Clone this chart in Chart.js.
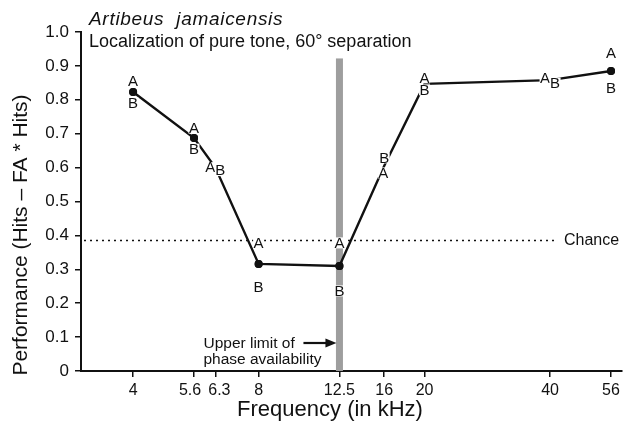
<!DOCTYPE html>
<html>
<head>
<meta charset="utf-8">
<script src="https://cdn.jsdelivr.net/npm/chart.js@4"></script>
<style>
  html, body { margin: 0; padding: 0; background: #fff; }
  #chart { display: block; }
</style>
</head>
<body>
<canvas id="chart" width="626" height="430"></canvas>
<script>
// data
const freqs = [4, 5.6, 6.3, 8, 12.5, 16, 20, 40, 56];
const performance = [0.823, 0.687, 0.60, 0.316, 0.31, 0.605, 0.847, 0.858, 0.885];
const showDot = [true, true, false, true, true, false, false, false, true];

const xTickValues = [4, 5.6, 6.3, 8, 12.5, 16, 20, 40, 56];
// 5.6 and 6.3 sit close together, so their labels are nudged apart with spaces
const xTickLabels = ["4", "5.6\u2002", "\u20026.3", "8", "12.5", "16", "20", "40", "56"];
const yTickValues = [0, 0.1, 0.2, 0.3, 0.4, 0.5, 0.6, 0.7, 0.8, 0.9, 1.0];
const yTickLabels = ["0", "0.1", "0.2", "0.3", "0.4", "0.5", "0.6", "0.7", "0.8", "0.9", "1.0"];

const chanceLevel = 0.385;
const phaseLimit = 12.5;
const phaseBandTop = 0.922;

// where the A / B letters sit around each point (pixel offsets)
const labelOffsets = [
  { a: [0, -11], b: [0, 11] },
  { a: [0, -10], b: [0, 11] },
  { a: [-5, 0], b: [5, 3] },
  { a: [0, -21], b: [0, 23] },
  { a: [0, -23], b: [0, 25] },
  { a: [-1, 7], b: [0, -8] },
  { a: [0, -6], b: [0, 6] },
  { a: [-5, -2], b: [5, 3] },
  { a: [0, -18], b: [0, 17] },
];

const FONT = '"Liberation Sans", Arial, Helvetica, sans-serif';
const INK = "#111";

const backdrop = {
  id: "backdrop",
  beforeDatasetsDraw(chart) {
    const { ctx, chartArea, scales: { x, y } } = chart;
    ctx.save();
    // phase availability band
    const bx = x.getPixelForValue(phaseLimit);
    const top = y.getPixelForValue(phaseBandTop);
    ctx.fillStyle = "#9e9e9e";
    ctx.fillRect(bx - 3.5, top, 7, chartArea.bottom - top);

    // chance line
    const cy = y.getPixelForValue(chanceLevel);
    ctx.strokeStyle = INK;
    ctx.lineWidth = 1.3;
    ctx.setLineDash([2, 4]);
    ctx.beginPath();
    ctx.moveTo(chartArea.left + 3, cy);
    ctx.lineTo(chartArea.right - 64, cy);
    ctx.stroke();
    ctx.setLineDash([]);
    ctx.fillStyle = INK;
    ctx.font = "16px " + FONT;
    ctx.textBaseline = "middle";
    ctx.textAlign = "left";
    ctx.fillText("Chance", chartArea.right - 58, cy);

    // upper limit note + arrow
    ctx.font = "15.5px " + FONT;
    ctx.textBaseline = "middle";
    ctx.fillText("Upper limit of", bx - 136, 344);
    ctx.fillText("phase availability", bx - 136, 360);
    ctx.lineWidth = 2.2;
    ctx.beginPath();
    ctx.moveTo(bx - 36, 343);
    ctx.lineTo(bx - 12, 343);
    ctx.stroke();
    ctx.beginPath();
    ctx.moveTo(bx - 3, 343);
    ctx.lineTo(bx - 14, 338.5);
    ctx.lineTo(bx - 14, 347.5);
    ctx.closePath();
    ctx.fill();
    ctx.restore();
  },
  afterDatasetsDraw(chart) {
    const { ctx, chartArea, scales: { x, y } } = chart;
    const meta = chart.getDatasetMeta(0);
    ctx.save();
    ctx.font = "15px " + FONT;
    ctx.textAlign = "center";
    ctx.textBaseline = "middle";
    freqs.forEach((f, i) => {
      const px = x.getPixelForValue(f);
      const py = y.getPixelForValue(performance[i]);
      const off = labelOffsets[i];
      [["A", off.a], ["B", off.b]].forEach(([t, o]) => {
        const lx = px + o[0], ly = py + o[1];
        ctx.fillStyle = "#fff";
        ctx.fillRect(lx - 5.5, ly - 5.5, 11, 11);
        ctx.fillStyle = INK;
        ctx.fillText(t, lx, ly + 0.5);
      });
    });
    // keep the dots on top of the letter backgrounds
    meta.data.forEach((pt) => pt.draw(ctx, chartArea));

    // headings
    ctx.textAlign = "left";
    ctx.textBaseline = "alphabetic";
    ctx.font = "italic 19px " + FONT;
    ctx.letterSpacing = "0.7px";
    ctx.fillText("Artibeus  jamaicensis", chartArea.left + 8, 25);
    ctx.letterSpacing = "0px";
    ctx.font = "18px " + FONT;
    ctx.fillText("Localization of pure tone, 60° separation", chartArea.left + 8, 47);

    // axis titles
    ctx.font = "22px " + FONT;
    ctx.textAlign = "center";
    ctx.textBaseline = "middle";
    ctx.fillText("Frequency (in kHz)", 330, 410);
    ctx.translate(21, 235);
    ctx.rotate(-Math.PI / 2);
    ctx.font = "21px " + FONT;
    ctx.fillText("Performance (Hits \u2013 FA * Hits)", 0, 0);
    ctx.restore();
  },
};

const chart = new Chart(document.getElementById("chart"), {
  type: "line",
  data: {
    datasets: [{
      data: freqs.map((f, i) => ({ x: f, y: performance[i] })),
      borderColor: INK,
      borderWidth: 2.4,
      tension: 0,
      pointRadius: showDot.map((d) => (d ? 4 : 0)),
      pointHoverRadius: 0,
      pointBackgroundColor: INK,
      pointBorderWidth: 0,
    }],
  },
  options: {
    responsive: false,
    animation: false,
    events: [],
    layout: { padding: { top: 32, right: 4, left: 0, bottom: 0 } },
    plugins: { legend: { display: false }, tooltip: { enabled: false } },
    scales: {
      x: {
        type: "logarithmic",
        min: 3,
        max: 59.5,
        afterBuildTicks: (s) => { s.ticks = xTickValues.map((v) => ({ value: v })); },
        afterFit: (s) => { s.height = 59; },
        ticks: {
          autoSkip: false,
          maxRotation: 0,
          padding: 4,
          color: INK,
          font: { family: FONT, size: 16 },
          callback: (v, i) => xTickLabels[i],
        },
        grid: { drawOnChartArea: false, drawTicks: true, tickLength: 6, color: INK, lineWidth: 1.5 },
        border: { display: true, color: INK, width: 2 },
      },
      y: {
        min: 0,
        max: 1,
        afterBuildTicks: (s) => { s.ticks = yTickValues.map((v) => ({ value: v })); },
        afterFit: (s) => { s.width = 81; },
        ticks: {
          autoSkip: false,
          padding: 6,
          color: INK,
          font: { family: FONT, size: 17 },
          callback: (v, i) => yTickLabels[i],
        },
        grid: { drawOnChartArea: false, drawTicks: true, tickLength: 6, color: INK, lineWidth: 1.5 },
        border: { display: true, color: INK, width: 2 },
      },
    },
  },
  plugins: [backdrop],
});
</script>
</body>
</html>
